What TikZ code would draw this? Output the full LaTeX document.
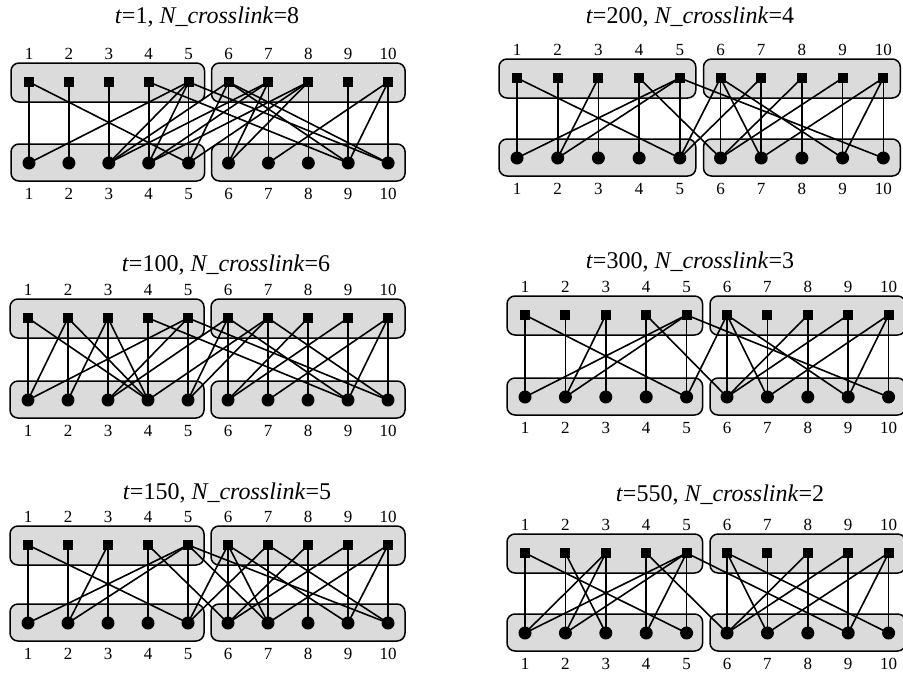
\documentclass[tikz,border=0pt]{standalone}
\usepackage{fontspec}
\setmainfont{Liberation Serif}
\begin{document}
\begin{tikzpicture}[x=1pt,y=-1pt,
  grp/.style={draw=black,line width=1.5pt,fill=black!14,rounded corners=8pt},
  sq/.style={rectangle,fill=black,inner sep=0pt,minimum size=10pt},
  dot/.style={circle,fill=black,inner sep=0pt,minimum width=13pt,minimum height=12pt},
  num/.style={inner sep=0pt,font=\fontsize{17}{17}\selectfont},
  ttl/.style={inner sep=0pt,font=\fontsize{24}{24}\selectfont},
  edge/.style={line width=1.6pt,black}]
\useasboundingbox (0,0) rectangle (903,675);
\newcommand\panel[8]{%
  \pgfmathsetmacro\xa{#2-18}\pgfmathsetmacro\xb{#2+4*#3+16}%
  \pgfmathsetmacro\xc{#2+5*#3-17}\pgfmathsetmacro\xd{#2+9*#3+17}%
  \draw[grp] (\xa,#4-19) rectangle (\xb,#4+20);
  \draw[grp] (\xc,#4-19) rectangle (\xd,#4+20);
  \draw[grp] (\xa,#5-19) rectangle (\xb,#5+18);
  \draw[grp] (\xc,#5-19) rectangle (\xd,#5+18);
  \foreach \i in {1,...,10} {
    \pgfmathsetmacro\xx{#2+(\i-1)*#3}
    \node[sq] (#1t\i) at (\xx,#4) {};
    \node[dot] (#1b\i) at (\xx,#5) {};
    \node[num] (#1nt\i) at (\xx,#4-28) {\i};
    \node[num] (#1nb\i) at (\xx,#5+31) {\i};
  }
  \node[ttl] (#1ttl) at (#6) {#7};
  \foreach \i in {1,...,10} \draw[edge] (#1t\i.center) -- (#1b\i.center);
  \foreach \a/\b in {#8} \draw[edge] (#1t\a.center) -- (#1b\b.center);
}
\panel{A}{29}{39.9}{82}{163}{207,17}{\textit{t}=1, \textit{N\_crosslink}=8}
  {1/5,5/1,5/3,5/4,4/9,5/10,6/3,7/3,7/4,8/4,6/5,8/5,6/9,6/10,7/6,8/6,10/7,10/9}
\panel{B}{517}{40.7}{78}{158}{690,17}{\textit{t}=200, \textit{N\_crosslink}=4}
  {1/5,5/1,5/2,3/2,4/6,5/10,6/5,7/5,6/7,6/9,8/6,9/6,10/7,10/9}
\panel{C}{28}{40}{318}{400}{226,265}{\textit{t}=100, \textit{N\_crosslink}=6}
  {1/4,2/1,2/4,3/2,3/4,5/1,5/3,4/9,5/10,6/3,7/4,6/5,7/5,6/9,7/10,8/6,9/6,10/7,10/9}
\panel{D}{525}{40.4}{315}{397}{690,262}{\textit{t}=300, \textit{N\_crosslink}=3}
  {1/5,5/1,5/2,3/2,4/6,5/10,6/5,6/7,6/9,8/6,9/6,10/7,10/9}
\panel{E}{28}{40}{545}{623}{227,493}{\textit{t}=150, \textit{N\_crosslink}=5}
  {1/5,5/1,5/2,3/2,4/6,5/10,6/5,7/5,5/7,6/7,6/9,8/6,9/6,10/7,10/9,7/10}
\panel{F}{525}{40.4}{553}{633}{720,495}{\textit{t}=550, \textit{N\_crosslink}=2}
  {1/5,2/3,3/1,3/2,5/1,5/2,5/4,4/6,5/9,6/7,6/10,8/6,9/6,10/7,10/9}
\end{tikzpicture}
\end{document}
